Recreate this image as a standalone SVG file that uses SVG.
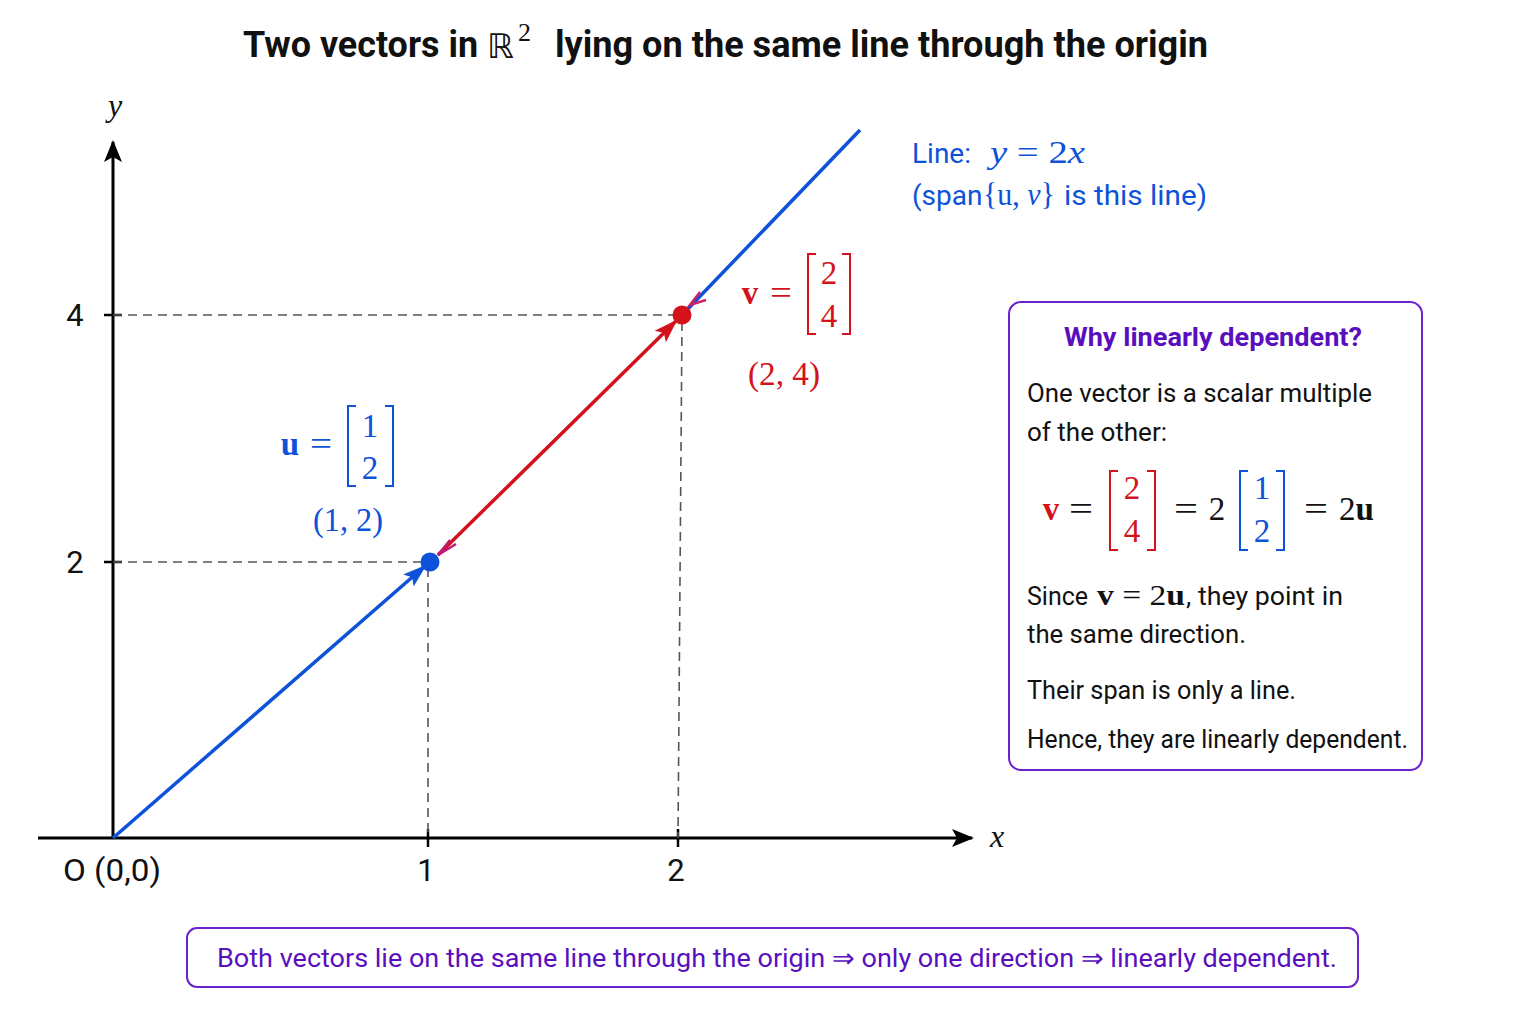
<svg xmlns="http://www.w3.org/2000/svg" width="1536" height="1024" viewBox="0 0 1536 1024">
<style>
.t{font-family:Roboto,"Liberation Sans",sans-serif;}
.m{font-family:"Liberation Serif","DejaVu Serif",serif;}
.blue{fill:#0d52d9;}
.red{fill:#d4121b;}
.pur{fill:#5a0fbf;}
.blk{fill:#111;}
.dash{stroke:#555;stroke-width:1.6;stroke-dasharray:9 6;fill:none;}
.brB{stroke:#0d52d9;stroke-width:2;fill:none;}
.brR{stroke:#d4121b;stroke-width:2;fill:none;}
</style>
<defs>
<marker id="ak" markerUnits="userSpaceOnUse" markerWidth="22" markerHeight="18" refX="20" refY="9" orient="auto"><path d="M0,0 L22,9 L0,18 L5,9 Z" fill="#000"/></marker>
<marker id="ab" markerUnits="userSpaceOnUse" markerWidth="24" markerHeight="18" refX="22" refY="9" orient="auto"><path d="M0,1 L24,9 L0,17 L5,9 Z" fill="#0d52d9"/></marker>
<marker id="ar" markerUnits="userSpaceOnUse" markerWidth="24" markerHeight="18" refX="22" refY="9" orient="auto"><path d="M0,1 L24,9 L0,17 L5,9 Z" fill="#d4121b"/></marker>
</defs>
<rect width="1536" height="1024" fill="#fff"/>

<g id="title">
<text class="t" font-weight="bold" font-size="36" y="57" fill="#111"><tspan x="243" textLength="235" lengthAdjust="spacingAndGlyphs">Two vectors in</tspan></text>
<text font-family="DejaVu Sans,sans-serif" font-size="34" x="487" y="58" fill="#111">ℝ</text>
<text class="m" font-size="26" x="518" y="41" fill="#111">2</text>
<text class="t" font-weight="bold" font-size="36" y="57" fill="#111"><tspan x="555" textLength="653" lengthAdjust="spacingAndGlyphs">lying on the same line through the origin</tspan></text>
</g>

<g id="axes">
<line x1="38" y1="838" x2="972" y2="838" stroke="#000" stroke-width="3" marker-end="url(#ak)"/>
<line x1="113" y1="838" x2="113" y2="142" stroke="#000" stroke-width="3" marker-end="url(#ak)"/>
<line x1="104" y1="315" x2="122" y2="315" stroke="#000" stroke-width="2.5"/>
<line x1="104" y1="562" x2="122" y2="562" stroke="#000" stroke-width="2.5"/>
<line x1="428" y1="829" x2="428" y2="847" stroke="#000" stroke-width="2.5"/>
<line x1="678" y1="829" x2="678" y2="847" stroke="#000" stroke-width="2.5"/>
<text class="m" font-style="italic" font-size="32" x="115" y="116" text-anchor="middle" fill="#111">y</text>
<text class="m" font-style="italic" font-size="32" x="997" y="847" text-anchor="middle" fill="#111">x</text>
<text class="t" font-size="31" x="75" y="326" text-anchor="middle" fill="#111">4</text>
<text class="t" font-size="31" x="75" y="573" text-anchor="middle" fill="#111">2</text>
<text class="t" font-size="31" x="426" y="881" text-anchor="middle" fill="#111">1</text>
<text class="t" font-size="31" x="676" y="881" text-anchor="middle" fill="#111">2</text>
<text class="t" font-size="31" x="112" y="881" text-anchor="middle" fill="#111" textLength="98" lengthAdjust="spacingAndGlyphs">O (0,0)</text>
</g>

<g id="guides">
<line class="dash" x1="113" y1="315" x2="680" y2="315"/>
<line class="dash" x1="682" y1="322" x2="678" y2="838"/>
<line class="dash" x1="113" y1="562" x2="428" y2="562"/>
<line class="dash" x1="428" y1="568" x2="428" y2="838"/>
</g>

<g id="connectors">
<line x1="682" y1="315" x2="860" y2="130" stroke="#0d52d9" stroke-width="3.5"/>
<line x1="113" y1="838" x2="425" y2="566" stroke="#0d52d9" stroke-width="3.5" marker-end="url(#ab)"/>
<line x1="438" y1="555" x2="676" y2="321" stroke="#d4121b" stroke-width="3.5" marker-end="url(#ar)"/>
<path d="M456,544 L438,555 L450,540" fill="none" stroke="#c0187a" stroke-width="2.5"/>
<path d="M700,292 L690,305 L706,300" fill="none" stroke="#d0206a" stroke-width="2.5"/>
</g>

<g id="point-u">
<circle cx="430" cy="562" r="9.5" fill="#0d52d9"/>
</g>
<g id="point-v">
<circle cx="682" cy="315" r="9.5" fill="#d4121b"/>
</g>

<g id="label-u">
<text class="m blue" font-weight="bold" font-size="33" x="290" y="455" text-anchor="middle">u</text>
<text class="m blue" font-size="33" x="321" y="455" text-anchor="middle" textLength="22" lengthAdjust="spacingAndGlyphs">=</text>
<path class="brB" d="M356,406 L348,406 L348,486 L356,486 M385,406 L393,406 L393,486 L385,486"/>
<text class="m blue" font-size="33" x="370" y="437" text-anchor="middle">1</text>
<text class="m blue" font-size="33" x="370" y="479" text-anchor="middle">2</text>
<text class="m blue" font-size="33" x="348" y="531" text-anchor="middle" textLength="70" lengthAdjust="spacingAndGlyphs">(1, 2)</text>
</g>

<g id="label-v">
<text class="m red" font-weight="bold" font-size="33" x="750" y="304" text-anchor="middle">v</text>
<text class="m red" font-size="33" x="781" y="304" text-anchor="middle" textLength="22" lengthAdjust="spacingAndGlyphs">=</text>
<path class="brR" d="M816,254 L808,254 L808,334 L816,334 M842,254 L850,254 L850,334 L842,334"/>
<text class="m red" font-size="33" x="829" y="284" text-anchor="middle">2</text>
<text class="m red" font-size="33" x="829" y="327" text-anchor="middle">4</text>
<text class="m red" font-size="33" x="784" y="385" text-anchor="middle" textLength="72" lengthAdjust="spacingAndGlyphs">(2, 4)</text>
</g>

<g id="label-line">
<text class="t blue" font-size="28" x="912" y="163">Line:</text>
<text class="m blue" font-size="32" x="990" y="163" textLength="95" lengthAdjust="spacingAndGlyphs"><tspan font-style="italic">y</tspan> = 2<tspan font-style="italic">x</tspan></text>
<text class="t blue" font-size="28" x="912" y="205">(span</text>
<text class="m blue" font-size="31" x="983" y="205" textLength="72" lengthAdjust="spacingAndGlyphs">{u, <tspan font-style="italic">v</tspan>}</text>
<text class="t blue" font-size="28" x="1064" y="205" textLength="143" lengthAdjust="spacingAndGlyphs">is this line)</text>
</g>

<g id="why-box">
<rect x="1009" y="302" width="413" height="468" rx="12" fill="#fff" stroke="#6a22cc" stroke-width="2"/>
<text class="t pur" font-weight="bold" font-size="26" x="1064" y="346" textLength="298" lengthAdjust="spacingAndGlyphs">Why linearly dependent?</text>
<text class="t blk" font-size="25" x="1027" y="402" textLength="345" lengthAdjust="spacingAndGlyphs">One vector is a scalar multiple</text>
<text class="t blk" font-size="25" x="1027" y="441" textLength="140" lengthAdjust="spacingAndGlyphs">of the other:</text>
<text class="m red" font-weight="bold" font-size="33" x="1051" y="520" text-anchor="middle">v</text>
<text class="m blk" font-size="33" x="1081" y="520" text-anchor="middle" textLength="24" lengthAdjust="spacingAndGlyphs">=</text>
<path class="brR" d="M1118,471 L1110,471 L1110,550 L1118,550 M1147,471 L1155,471 L1155,550 L1147,550"/>
<text class="m red" font-size="33" x="1132" y="499" text-anchor="middle">2</text>
<text class="m red" font-size="33" x="1132" y="542" text-anchor="middle">4</text>
<text class="m blk" font-size="33" x="1186" y="520" text-anchor="middle" textLength="24" lengthAdjust="spacingAndGlyphs">=</text>
<text class="m blk" font-size="33" x="1217" y="520" text-anchor="middle">2</text>
<path class="brB" d="M1248,471 L1240,471 L1240,550 L1248,550 M1276,471 L1284,471 L1284,550 L1276,550"/>
<text class="m blue" font-size="33" x="1262" y="499" text-anchor="middle">1</text>
<text class="m blue" font-size="33" x="1262" y="542" text-anchor="middle">2</text>
<text class="m blk" font-size="33" x="1316" y="520" text-anchor="middle" textLength="24" lengthAdjust="spacingAndGlyphs">=</text>
<text class="m blk" font-size="33" x="1339" y="520" textLength="35" lengthAdjust="spacingAndGlyphs">2<tspan font-weight="bold">u</tspan></text>
<text class="t blk" font-size="25" x="1027" y="605">Since</text>
<text class="m blk" font-size="30" x="1097" y="605" textLength="88" lengthAdjust="spacingAndGlyphs"><tspan font-weight="bold">v</tspan> = 2<tspan font-weight="bold">u</tspan></text>
<text class="t blk" font-size="25" x="1186" y="605" textLength="157" lengthAdjust="spacingAndGlyphs">, they point in</text>
<text class="t blk" font-size="25" x="1027" y="643" textLength="219" lengthAdjust="spacingAndGlyphs">the same direction.</text>
<text class="t blk" font-size="25" x="1027" y="699" textLength="269" lengthAdjust="spacingAndGlyphs">Their span is only a line.</text>
<text class="t blk" font-size="25" x="1027" y="748" textLength="381" lengthAdjust="spacingAndGlyphs">Hence, they are linearly dependent.</text>
</g>

<g id="summary-box">
<rect x="187" y="928" width="1171" height="59" rx="10" fill="#fff" stroke="#6a22cc" stroke-width="2"/>
<text class="t pur" font-size="26" x="217" y="967" textLength="1120" lengthAdjust="spacingAndGlyphs">Both vectors lie on the same line through the origin ⇒ only one direction ⇒ linearly dependent.</text>
</g>
</svg>
